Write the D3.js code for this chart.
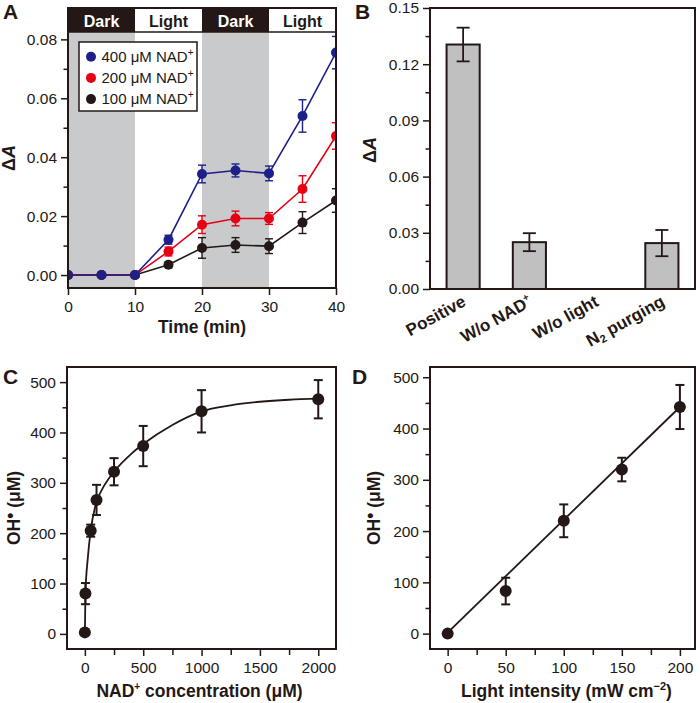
<!DOCTYPE html>
<html><head><meta charset="utf-8">
<script src="https://cdn.jsdelivr.net/npm/d3@7/dist/d3.min.js"></script>
<style>body{margin:0;background:#fff}svg{display:block}</style>
</head><body>
<svg id="fig" width="700" height="703"></svg>
<script>
// ---------- Panel A data ----------
const timeMin = [0, 5, 10, 15, 20, 25, 30, 35, 40];
const nad400 = [0, 0, 0, 0.0120, 0.0343, 0.0355, 0.0345, 0.0540, 0.0755];
const nad400Err = [0, 0, 0, 0.0015, 0.0030, 0.0022, 0.0025, 0.0055, 0.0055];
const nad200 = [0, 0, 0, 0.0080, 0.0171, 0.0192, 0.0192, 0.0292, 0.0472];
const nad200Err = [0, 0, 0, 0.0015, 0.0030, 0.0025, 0.0020, 0.0045, 0.0045];
const nad100 = [0, 0, 0, 0.0035, 0.0092, 0.0102, 0.0098, 0.0178, 0.0253];
const nad100Err = [0, 0, 0, 0.0010, 0.0035, 0.0025, 0.0025, 0.0037, 0.0040];
const seriesNames = ["400 μM NAD", "200 μM NAD", "100 μM NAD"];
const phaseNames = ["Dark", "Light", "Dark", "Light"];
const phaseStart = [0, 10, 20, 30];
const phaseEnd = [10, 20, 30, 40];
const ticksA_x = [0, 10, 20, 30, 40];
const ticksA_y = [0, 0.02, 0.04, 0.06, 0.08];
const minorA_y = [0.01, 0.03, 0.05, 0.07];

// ---------- Panel B data ----------
const conditions = ["Positive", "W/o NAD", "W/o light", "N purging"];
const condValues = [0.1305, 0.0250, 0, 0.0245];
const condErr = [0.0090, 0.0048, 0, 0.0070];
const ticksB_y = [0, 0.03, 0.06, 0.09, 0.12, 0.15];
const minorB_y = [0.015, 0.045, 0.075, 0.105, 0.135];

// ---------- Panel C data ----------
const nadConc = [0, 5, 50, 100, 250, 500, 1000, 2000];
const ohC = [3, 80, 205, 266, 322, 373, 442, 466];
const ohCErr = [0, 21, 12, 30, 27, 40, 42, 38];
const fitC_x = [0, 5, 25, 50, 100, 150, 250, 400, 500, 750, 1000, 1250, 1500, 1750, 2000];
const fitC_y = [0, 80, 150, 205, 262, 288, 322, 358, 377, 415, 442, 454, 461, 465, 467];
const ticksC_x = [0, 500, 1000, 1500, 2000];
const minorC_x = [250, 750, 1250, 1750];
const ticksOH = [0, 100, 200, 300, 400, 500];
const minorOH = [50, 150, 250, 350, 450];

// ---------- Panel D data ----------
const intensity = [0, 50, 100, 150, 200];
const ohD = [0, 83, 220, 320, 442];
const ohDErr = [0, 26, 32, 23, 43];
const fitD_x = [0, 200];
const fitD_y = [2, 442];
const ticksD_x = [0, 50, 100, 150, 200];
const minorD_x = [25, 75, 125, 175];

// ---------- styles ----------
const FONT = "'Liberation Sans', Arial, Helvetica, sans-serif";
const INK = "#231815";
const BLUE = "#1d2088", RED = "#e60012";
const svg = d3.select("#fig").attr("font-family", FONT);

function styleAxis(g, fs) {
  g.select(".domain").remove();
  g.selectAll(".tick line").attr("stroke", INK).attr("stroke-width", 1.5);
  g.selectAll(".tick text").attr("font-size", fs || 15.5).attr("fill", INK).attr("font-family", FONT);
}
function leftAxis(y, x0, major, minor, fmt) {
  const g = svg.append("g").attr("transform", `translate(${x0},0)`)
    .call(d3.axisLeft(y).tickValues(major).tickFormat(fmt).tickSize(7).tickPadding(4).tickSizeOuter(0));
  styleAxis(g);
  if (minor) {
    const m = svg.append("g").attr("transform", `translate(${x0},0)`)
      .call(d3.axisLeft(y).tickValues(minor).tickFormat("").tickSize(4.5).tickSizeOuter(0));
    styleAxis(m);
  }
}
function bottomAxis(x, y0, major, minor, fmt) {
  const g = svg.append("g").attr("transform", `translate(0,${y0})`)
    .call(d3.axisBottom(x).tickValues(major).tickFormat(fmt).tickSize(7).tickPadding(6).tickSizeOuter(0));
  styleAxis(g);
  if (minor) {
    const m = svg.append("g").attr("transform", `translate(0,${y0})`)
      .call(d3.axisBottom(x).tickValues(minor).tickFormat("").tickSize(6).tickSizeOuter(0));
    styleAxis(m);
  }
}
function frame(x0, y0, x1, y1) {
  svg.append("rect").attr("x", x0).attr("y", y0).attr("width", x1 - x0).attr("height", y1 - y0)
    .attr("fill", "none").attr("stroke", INK).attr("stroke-width", 2);
}
function panelLetter(t, x, y) {
  svg.append("text").attr("x", x).attr("y", y).attr("font-size", 21).attr("font-weight", "bold")
    .attr("fill", INK).text(t);
}
function errorBars(g, xs, ys, es, x, y, cap, sw, color) {
  xs.forEach((xv, i) => {
    if (!es[i]) return;
    const cx = x(xv), top = y(ys[i] + es[i]), bot = y(ys[i] - es[i]);
    g.append("line").attr("x1", cx).attr("x2", cx).attr("y1", top).attr("y2", bot)
      .attr("stroke", color).attr("stroke-width", sw);
    [top, bot].forEach(v => g.append("line").attr("x1", cx - cap / 2).attr("x2", cx + cap / 2)
      .attr("y1", v).attr("y2", v).attr("stroke", color).attr("stroke-width", sw));
  });
}

// ================= Panel A =================
const A = { l: 68, r: 336, t: 32, b: 288, hTop: 8 };
const xA = d3.scaleLinear().domain([0, 40]).range([A.l, A.r]);
const yA = d3.scaleLinear().domain([-0.0044, 0.0825]).range([A.b, A.t]);

phaseNames.forEach((p, i) => {
  if (p === "Dark") svg.append("rect").attr("x", xA(phaseStart[i])).attr("y", A.t)
    .attr("width", xA(phaseEnd[i]) - xA(phaseStart[i])).attr("height", A.b - A.t).attr("fill", "#c9cacb");
});
phaseNames.forEach((p, i) => {
  const dark = p === "Dark";
  svg.append("rect").attr("x", xA(phaseStart[i])).attr("y", A.hTop)
    .attr("width", xA(phaseEnd[i]) - xA(phaseStart[i])).attr("height", A.t - A.hTop)
    .attr("fill", dark ? INK : "#fff");
  svg.append("text").attr("x", (xA(phaseStart[i]) + xA(phaseEnd[i])) / 2).attr("y", A.hTop + 18.5)
    .attr("text-anchor", "middle").attr("font-size", 16).attr("font-weight", "bold")
    .attr("fill", dark ? "#fff" : INK).text(p);
});
svg.append("line").attr("x1", A.l).attr("x2", A.r).attr("y1", A.t).attr("y2", A.t)
  .attr("stroke", INK).attr("stroke-width", 1.5);

svg.append("clipPath").attr("id", "clipA").append("rect")
  .attr("x", A.l).attr("y", A.t).attr("width", A.r - A.l).attr("height", A.b - A.t);
const gA = svg.append("g").attr("clip-path", "url(#clipA)");
const seriesA = [
  { v: nad100, e: nad100Err, c: INK },
  { v: nad200, e: nad200Err, c: RED },
  { v: nad400, e: nad400Err, c: BLUE }
];
const lineA = d3.line().x((d, i) => xA(timeMin[i])).y(d => yA(d));
seriesA.forEach(s => {
  gA.append("path").attr("d", lineA(s.v)).attr("fill", "none").attr("stroke", s.c).attr("stroke-width", 1.6);
  errorBars(gA, timeMin, s.v, s.e, xA, yA, 8, 1.4, s.c);
  gA.selectAll(null).data(s.v).enter().append("circle")
    .attr("cx", (d, i) => xA(timeMin[i])).attr("cy", d => yA(d)).attr("r", 5).attr("fill", s.c);
});
frame(A.l, A.hTop, A.r, A.b);
leftAxis(yA, A.l, ticksA_y, minorA_y, d3.format(".2f"));
bottomAxis(xA, A.b, ticksA_x, null, d3.format("d"));

const leg = svg.append("g");
leg.append("rect").attr("x", 79).attr("y", 42).attr("width", 118).attr("height", 69)
  .attr("fill", "#fff").attr("stroke", INK).attr("stroke-width", 1.5);
[BLUE, RED, INK].forEach((c, i) => {
  const yy = 56.7 + i * 21.2;
  leg.append("circle").attr("cx", 91).attr("cy", yy).attr("r", 5).attr("fill", c);
  const t = leg.append("text").attr("x", 101.5).attr("y", yy + 5.3).attr("font-size", 15).attr("fill", INK);
  t.append("tspan").text(seriesNames[i]);
  t.append("tspan").attr("font-size", 10).attr("dy", -6).text("+");
});
svg.append("text").attr("x", (A.l + A.r) / 2).attr("y", 333).attr("text-anchor", "middle")
  .attr("font-size", 17.5).attr("font-weight", "bold").attr("fill", INK).text("Time (min)");
function deltaA(x, y) {
  const t = svg.append("text").attr("transform", `translate(${x},${y}) rotate(-90)`)
    .attr("text-anchor", "middle").attr("font-size", 18).attr("font-weight", "bold").attr("fill", INK);
  t.append("tspan").text("Δ");
  t.append("tspan").attr("font-style", "italic").text("A");
}
deltaA(14.5, 158);
panelLetter("A", 3, 19);

// ================= Panel B =================
const B = { l: 430, r: 695, t: 8, b: 289 };
const xB = d3.scaleBand().domain(conditions).range([B.l, B.r]).paddingInner(0.5).paddingOuter(0.25);
const yB = d3.scaleLinear().domain([0, 0.15]).range([B.b, B.t]);
const gB = svg.append("g");
conditions.forEach((c, i) => {
  if (condValues[i] > 0) gB.append("rect").attr("x", xB(c)).attr("y", yB(condValues[i]))
    .attr("width", xB.bandwidth()).attr("height", yB(0) - yB(condValues[i]))
    .attr("fill", "#c0c0c0").attr("stroke", INK).attr("stroke-width", 2);
});
errorBars(gB, conditions, condValues, condErr, c => xB(c) + xB.bandwidth() / 2, yB, 13, 1.8, INK);
frame(B.l, B.t, B.r, B.b);
leftAxis(yB, B.l, ticksB_y, minorB_y, d3.format(".2f"));
conditions.forEach((c, i) => {
  const cx = xB(c) + xB.bandwidth() / 2 + 4;
  const t = svg.append("text").attr("transform", `translate(${cx},305) rotate(-29)`)
    .attr("text-anchor", "end").attr("font-size", 17).attr("font-weight", "bold").attr("fill", INK);
  if (i === 1) { t.append("tspan").text(c); t.append("tspan").attr("font-size", 10).attr("dy", -7).text("+"); }
  else if (i === 3) { t.append("tspan").text("N"); t.append("tspan").attr("font-size", 11).attr("dy", 3).text("2");
    t.append("tspan").attr("dy", -3).text(" purging"); }
  else t.text(c);
});
deltaA(376, 150);
panelLetter("B", 355, 19);

// ================= Panel C =================
const C = { l: 67, r: 336, t: 367, b: 649 };
const xC = d3.scaleLinear().domain([-153, 2152]).range([C.l, C.r]);
const yC = d3.scaleLinear().domain([-30, 530]).range([C.b, C.t]);
const gC = svg.append("g");
gC.append("path").attr("d", d3.line().curve(d3.curveMonotoneX)
  .x((d, i) => xC(fitC_x[i])).y(d => yC(d))(fitC_y))
  .attr("fill", "none").attr("stroke", INK).attr("stroke-width", 1.8);
errorBars(gC, nadConc, ohC, ohCErr, xC, yC, 9, 2, INK);
gC.selectAll(null).data(ohC).enter().append("circle")
  .attr("cx", (d, i) => xC(nadConc[i])).attr("cy", d => yC(d)).attr("r", 6).attr("fill", INK);
frame(C.l, C.t, C.r, C.b);
leftAxis(yC, C.l, ticksOH, minorOH, d3.format("d"));
bottomAxis(xC, C.b, ticksC_x, minorC_x, d3.format("d"));
function ohLabel(x, y) {
  const t = svg.append("text").attr("transform", `translate(${x},${y}) rotate(-90)`)
    .attr("text-anchor", "middle").attr("font-size", 17.5).attr("font-weight", "bold").attr("fill", INK);
  t.append("tspan").text("OH");
  t.append("tspan").attr("dy", -4).text("•");
  t.append("tspan").attr("dy", 4).text(" (μM)");
}
ohLabel(19.5, 508);
{
  const t = svg.append("text").attr("x", (C.l + C.r) / 2 - 2).attr("y", 697).attr("text-anchor", "middle")
    .attr("font-size", 17.5).attr("font-weight", "bold").attr("fill", INK);
  t.append("tspan").text("NAD");
  t.append("tspan").attr("font-size", 10).attr("dy", -7).text("+");
  t.append("tspan").attr("dy", 7).text(" concentration (μM)");
}
panelLetter("C", 3, 384);

// ================= Panel D =================
const D = { l: 430, r: 695, t: 367, b: 649 };
const xD = d3.scaleLinear().domain([-15.2, 213]).range([D.l, D.r]);
const yD = d3.scaleLinear().domain([-30, 520]).range([D.b, D.t]);
const gD = svg.append("g");
gD.append("path").attr("d", d3.line().x((d, i) => xD(fitD_x[i])).y(d => yD(d))(fitD_y))
  .attr("fill", "none").attr("stroke", INK).attr("stroke-width", 1.8);
errorBars(gD, intensity, ohD, ohDErr, xD, yD, 9, 2, INK);
gD.selectAll(null).data(ohD).enter().append("circle")
  .attr("cx", (d, i) => xD(intensity[i])).attr("cy", d => yD(d)).attr("r", 6).attr("fill", INK);
frame(D.l, D.t, D.r, D.b);
leftAxis(yD, D.l, ticksOH, minorOH, d3.format("d"));
bottomAxis(xD, D.b, ticksD_x, minorD_x, d3.format("d"));
ohLabel(380, 508);
{
  const t = svg.append("text").attr("x", (D.l + D.r) / 2 + 4).attr("y", 697).attr("text-anchor", "middle")
    .attr("font-size", 17.5).attr("font-weight", "bold").attr("fill", INK);
  t.append("tspan").text("Light intensity (mW cm");
  t.append("tspan").attr("font-size", 11).attr("dy", -7).text("−2");
  t.append("tspan").attr("dy", 7).text(")");
}
panelLetter("D", 352, 384);
</script>
</body></html>
